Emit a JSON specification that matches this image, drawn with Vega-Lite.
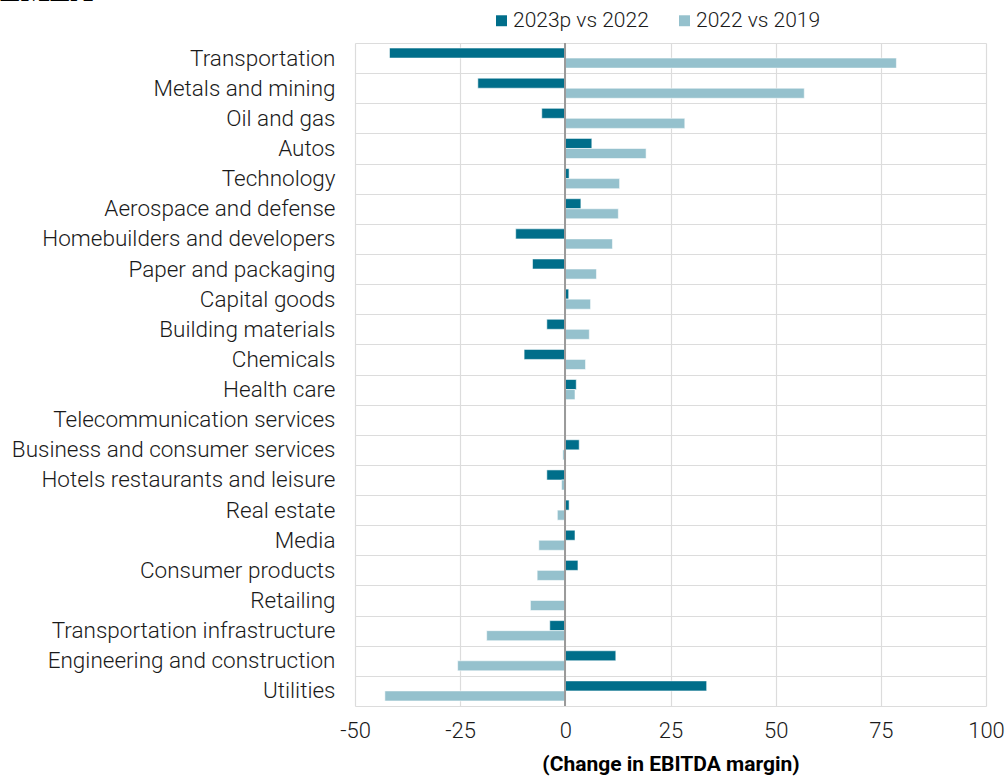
{
  "$schema": "https://vega.github.io/schema/vega-lite/v6.json",
  "autosize": "none",
  "padding": {"left": 355, "top": 43, "right": 19, "bottom": 70},
  "width": 631,
  "height": 663,
  "background": "white",
  "title": {
    "text": "EMEA",
    "anchor": "start",
    "frame": "group",
    "orient": "top",
    "font": "Liberation Serif",
    "fontSize": 31,
    "fontWeight": "bold",
    "color": "#000000",
    "baseline": "alphabetic",
    "offset": 0,
    "dx": -355,
    "dy": 22
  },
  "config": {
    "view": {"stroke": null},
    "font": "Roboto"
  },
  "data": {
    "values": [
      {"sector": "Transportation", "series": "2023p vs 2022", "value": -41.8},
      {"sector": "Transportation", "series": "2022 vs 2019", "value": 78.7},
      {"sector": "Metals and mining", "series": "2023p vs 2022", "value": -20.8},
      {"sector": "Metals and mining", "series": "2022 vs 2019", "value": 56.8},
      {"sector": "Oil and gas", "series": "2023p vs 2022", "value": -5.6},
      {"sector": "Oil and gas", "series": "2022 vs 2019", "value": 28.4},
      {"sector": "Autos", "series": "2023p vs 2022", "value": 6.3},
      {"sector": "Autos", "series": "2022 vs 2019", "value": 19.2},
      {"sector": "Technology", "series": "2023p vs 2022", "value": 0.9},
      {"sector": "Technology", "series": "2022 vs 2019", "value": 12.9},
      {"sector": "Aerospace and defense", "series": "2023p vs 2022", "value": 3.7},
      {"sector": "Aerospace and defense", "series": "2022 vs 2019", "value": 12.6},
      {"sector": "Homebuilders and developers", "series": "2023p vs 2022", "value": -11.8},
      {"sector": "Homebuilders and developers", "series": "2022 vs 2019", "value": 11.2},
      {"sector": "Paper and packaging", "series": "2023p vs 2022", "value": -7.8},
      {"sector": "Paper and packaging", "series": "2022 vs 2019", "value": 7.4},
      {"sector": "Capital goods", "series": "2023p vs 2022", "value": 0.8},
      {"sector": "Capital goods", "series": "2022 vs 2019", "value": 6.0},
      {"sector": "Building materials", "series": "2023p vs 2022", "value": -4.4},
      {"sector": "Building materials", "series": "2022 vs 2019", "value": 5.7},
      {"sector": "Chemicals", "series": "2023p vs 2022", "value": -9.8},
      {"sector": "Chemicals", "series": "2022 vs 2019", "value": 4.8},
      {"sector": "Health care", "series": "2023p vs 2022", "value": 2.6},
      {"sector": "Health care", "series": "2022 vs 2019", "value": 2.3},
      {"sector": "Telecommunication services", "series": "2023p vs 2022", "value": -0.3},
      {"sector": "Telecommunication services", "series": "2022 vs 2019", "value": 0.0},
      {"sector": "Business and consumer services", "series": "2023p vs 2022", "value": 3.3},
      {"sector": "Business and consumer services", "series": "2022 vs 2019", "value": -0.6},
      {"sector": "Hotels restaurants and leisure", "series": "2023p vs 2022", "value": -4.4},
      {"sector": "Hotels restaurants and leisure", "series": "2022 vs 2019", "value": -0.9},
      {"sector": "Real estate", "series": "2023p vs 2022", "value": 0.9},
      {"sector": "Real estate", "series": "2022 vs 2019", "value": -1.9},
      {"sector": "Media", "series": "2023p vs 2022", "value": 2.3},
      {"sector": "Media", "series": "2022 vs 2019", "value": -6.3},
      {"sector": "Consumer products", "series": "2023p vs 2022", "value": 3.0},
      {"sector": "Consumer products", "series": "2022 vs 2019", "value": -6.7},
      {"sector": "Retailing", "series": "2023p vs 2022", "value": -0.2},
      {"sector": "Retailing", "series": "2022 vs 2019", "value": -8.3},
      {"sector": "Transportation infrastructure", "series": "2023p vs 2022", "value": -3.7},
      {"sector": "Transportation infrastructure", "series": "2022 vs 2019", "value": -18.7},
      {"sector": "Engineering and construction", "series": "2023p vs 2022", "value": 12.0},
      {"sector": "Engineering and construction", "series": "2022 vs 2019", "value": -25.6},
      {"sector": "Utilities", "series": "2023p vs 2022", "value": 33.6},
      {"sector": "Utilities", "series": "2022 vs 2019", "value": -42.9}
    ]
  },
  "layer": [
    {
      "mark": {"type": "bar", "stroke": "white", "strokeWidth": 0.8, "strokeOpacity": 0.7},
      "encoding": {
        "y": {
          "field": "sector",
          "type": "nominal",
          "sort": null,
          "scale": {"paddingInner": 0, "paddingOuter": 0},
          "axis": {
            "title": null,
            "tickBand": "extent",
            "grid": true,
            "gridColor": "#dcdcdc",
            "gridWidth": 1.2,
            "domain": false,
            "ticks": false,
            "labelPadding": 20,
            "labelFont": "Roboto",
            "labelFontWeight": 300,
            "labelFontSize": 22.5,
            "labelColor": "#1a1a1a",
            "labelLimit": 400
          }
        },
        "yOffset": {
          "field": "series",
          "type": "nominal",
          "sort": ["2023p vs 2022", "2022 vs 2019"],
          "scale": {"paddingInner": 0, "paddingOuter": 0.5}
        },
        "x": {
          "field": "value",
          "type": "quantitative",
          "scale": {"domain": [-50, 100], "nice": false, "zero": false},
          "axis": {
            "values": [-50, -25, 0, 25, 50, 75, 100],
            "labelExpr": "'' + datum.value",
            "labelFlush": false,
            "title": "(Change in EBITDA margin)",
            "titleFont": "Roboto",
            "titleFontSize": 21,
            "titleFontWeight": "bold",
            "titleColor": "#000000",
            "titlePadding": 12,
            "grid": true,
            "gridColor": "#dcdcdc",
            "gridWidth": 1.2,
            "domain": false,
            "ticks": false,
            "labelPadding": 14,
            "labelFont": "Roboto",
            "labelFontWeight": 300,
            "labelFontSize": 22,
            "labelColor": "#1a1a1a"
          }
        },
        "color": {
          "field": "series",
          "type": "nominal",
          "sort": ["2023p vs 2022", "2022 vs 2019"],
          "scale": {"domain": ["2023p vs 2022", "2022 vs 2019"], "range": ["#006e8a", "#95c1cd"]},
          "legend": {
            "title": null,
            "orient": "none",
            "direction": "horizontal",
            "legendX": 136,
            "legendY": -33,
            "symbolType": "square",
            "symbolSize": 120,
            "symbolStrokeWidth": 0,
            "labelFont": "Roboto",
            "labelFontWeight": 300,
            "labelFontSize": 21,
            "labelColor": "#1a1a1a",
            "labelOffset": 1,
            "columnPadding": 25
          }
        }
      }
    },
    {
      "mark": {"type": "rule", "color": "#9a9a9a", "strokeWidth": 1.2},
      "encoding": {"x": {"datum": 0}}
    }
  ]
}
